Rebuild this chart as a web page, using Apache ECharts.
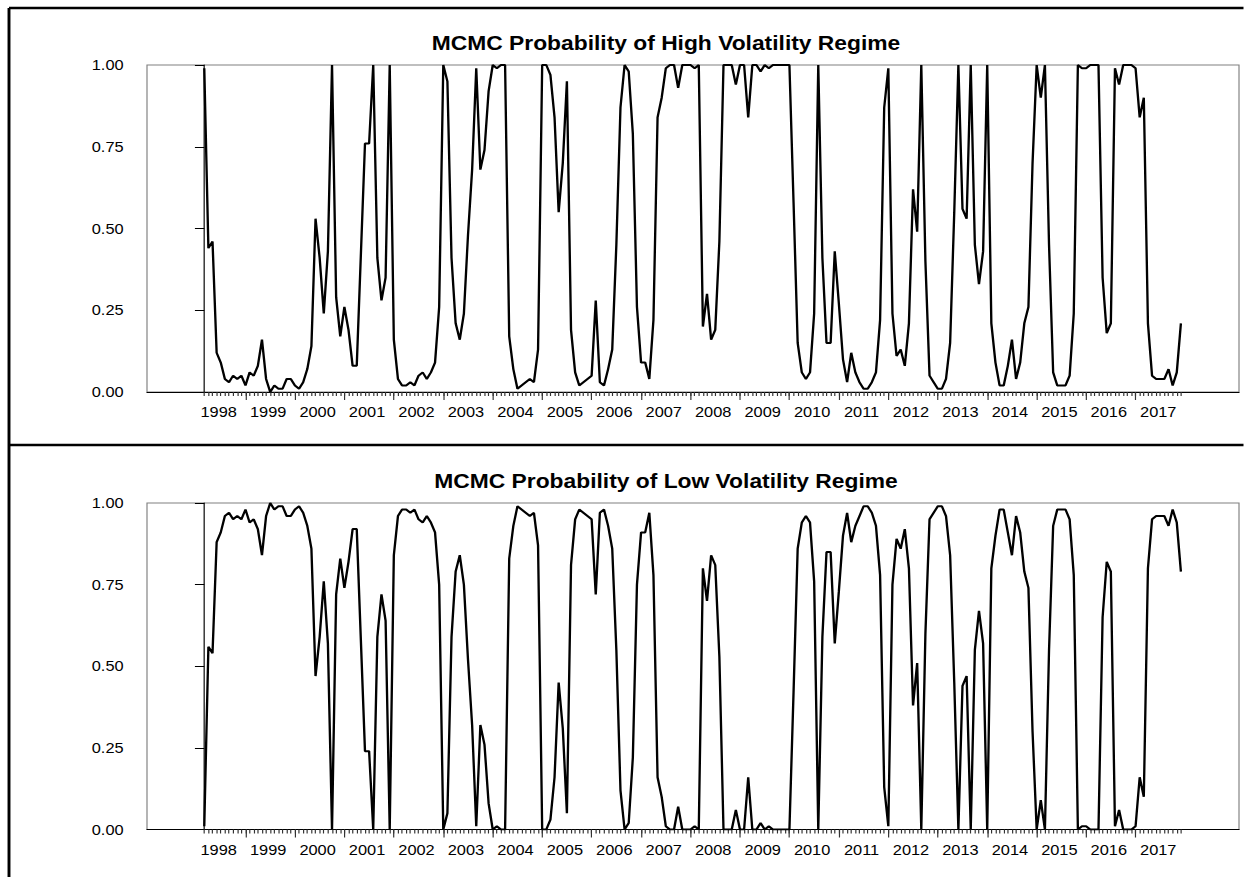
<!DOCTYPE html>
<html>
<head>
<meta charset="utf-8">
<title>MCMC regime probabilities</title>
<script src="https://cdn.jsdelivr.net/npm/echarts@6.0.0/dist/echarts.min.js"></script>
<style>
html, body { margin: 0; padding: 0; background: #fff; overflow: hidden; }
/* the reference is horizontally stretched, so draw narrow and stretch */
#chart { position: absolute; left: 0; top: 0; width: 1063px; height: 877px;
         transform: scaleX(1.17); transform-origin: 0 0; }
</style>
</head>
<body>
<div id="chart"></div>
<script>
var startYear = 1998, startMonth = 3;   // first observation 1998M03

var years = [1998, 1999, 2000, 2001, 2002, 2003, 2004, 2005, 2006, 2007,
             2008, 2009, 2010, 2011, 2012, 2013, 2014, 2015, 2016, 2017];

var titles = ['MCMC Probability of High Volatility Regime',
              'MCMC Probability of Low Volatility Regime'];

var highProb = [
    0.99, 0.44, 0.46, 0.12, 0.09, 0.04, 0.03, 0.05, 0.04, 0.05,
    0.02, 0.06, 0.05, 0.08, 0.16, 0.04, 0.00, 0.02, 0.01, 0.01,
    0.04, 0.04, 0.02, 0.01, 0.03, 0.07, 0.14, 0.53, 0.41, 0.24,
    0.43, 1.00, 0.29, 0.17, 0.26, 0.19, 0.08, 0.08, 0.42, 0.76,
    0.76, 1.00, 0.41, 0.28, 0.35, 1.00, 0.16, 0.04, 0.02, 0.02,
    0.03, 0.02, 0.05, 0.06, 0.04, 0.06, 0.09, 0.26, 1.00, 0.95,
    0.41, 0.21, 0.16, 0.24, 0.48, 0.68, 0.99, 0.68, 0.74, 0.92,
    1.00, 0.99, 1.00, 1.00, 0.17, 0.07, 0.01, 0.02, 0.03, 0.04,
    0.03, 0.13, 1.00, 1.00, 0.97, 0.84, 0.55, 0.70, 0.95, 0.19,
    0.06, 0.02, 0.03, 0.04, 0.05, 0.28, 0.03, 0.02, 0.07, 0.13,
    0.45, 0.87, 1.00, 0.98, 0.79, 0.26, 0.09, 0.09, 0.04, 0.22,
    0.84, 0.90, 0.99, 1.00, 1.00, 0.93, 1.00, 1.00, 1.00, 0.99,
    1.00, 0.20, 0.30, 0.16, 0.19, 0.46, 1.00, 1.00, 1.00, 0.94,
    1.00, 1.00, 0.84, 1.00, 1.00, 0.98, 1.00, 0.99, 1.00, 1.00,
    1.00, 1.00, 1.00, 0.58, 0.15, 0.06, 0.04, 0.06, 0.24, 1.00,
    0.41, 0.15, 0.15, 0.43, 0.27, 0.10, 0.03, 0.12, 0.06, 0.03,
    0.01, 0.01, 0.03, 0.06, 0.22, 0.87, 0.99, 0.24, 0.11, 0.13,
    0.08, 0.21, 0.62, 0.49, 1.00, 0.40, 0.05, 0.03, 0.01, 0.01,
    0.04, 0.15, 0.55, 1.00, 0.56, 0.53, 1.00, 0.45, 0.33, 0.43,
    1.00, 0.21, 0.09, 0.02, 0.02, 0.08, 0.16, 0.04, 0.09, 0.21,
    0.26, 0.70, 1.00, 0.90, 1.00, 0.45, 0.06, 0.02, 0.02, 0.02,
    0.05, 0.24, 1.00, 0.99, 0.99, 1.00, 1.00, 1.00, 0.35, 0.18,
    0.21, 0.99, 0.94, 1.00, 1.00, 1.00, 0.99, 0.84, 0.90, 0.21,
    0.05, 0.04, 0.04, 0.04, 0.07, 0.02, 0.06, 0.21
];

var lowProb = [
    0.01, 0.56, 0.54, 0.88, 0.91, 0.96, 0.97, 0.95, 0.96, 0.95,
    0.98, 0.94, 0.95, 0.92, 0.84, 0.96, 1.00, 0.98, 0.99, 0.99,
    0.96, 0.96, 0.98, 0.99, 0.97, 0.93, 0.86, 0.47, 0.59, 0.76,
    0.57, 0.00, 0.72, 0.83, 0.74, 0.82, 0.92, 0.92, 0.58, 0.24,
    0.24, 0.00, 0.59, 0.72, 0.64, 0.00, 0.84, 0.96, 0.98, 0.98,
    0.97, 0.98, 0.95, 0.94, 0.96, 0.94, 0.91, 0.75, 0.00, 0.05,
    0.59, 0.79, 0.84, 0.75, 0.52, 0.32, 0.01, 0.32, 0.26, 0.08,
    0.00, 0.01, 0.00, 0.00, 0.83, 0.93, 0.99, 0.98, 0.97, 0.96,
    0.97, 0.87, 0.00, 0.00, 0.03, 0.16, 0.45, 0.31, 0.05, 0.81,
    0.95, 0.98, 0.97, 0.96, 0.95, 0.72, 0.97, 0.98, 0.93, 0.86,
    0.55, 0.12, 0.00, 0.02, 0.22, 0.75, 0.91, 0.91, 0.97, 0.78,
    0.16, 0.10, 0.01, 0.00, 0.00, 0.07, 0.00, 0.00, 0.00, 0.01,
    0.00, 0.80, 0.70, 0.84, 0.81, 0.53, 0.00, 0.00, 0.00, 0.06,
    0.00, 0.00, 0.16, 0.00, 0.00, 0.02, 0.00, 0.01, 0.00, 0.00,
    0.00, 0.00, 0.00, 0.42, 0.86, 0.94, 0.96, 0.94, 0.76, 0.00,
    0.59, 0.85, 0.85, 0.57, 0.73, 0.90, 0.97, 0.88, 0.93, 0.96,
    0.99, 0.99, 0.97, 0.93, 0.78, 0.13, 0.01, 0.75, 0.89, 0.86,
    0.92, 0.80, 0.38, 0.51, 0.00, 0.60, 0.95, 0.97, 0.99, 0.99,
    0.96, 0.84, 0.45, 0.00, 0.44, 0.47, 0.00, 0.55, 0.67, 0.57,
    0.00, 0.80, 0.90, 0.98, 0.98, 0.91, 0.84, 0.96, 0.91, 0.79,
    0.74, 0.30, 0.00, 0.09, 0.00, 0.55, 0.93, 0.98, 0.98, 0.98,
    0.95, 0.78, 0.00, 0.01, 0.01, 0.00, 0.00, 0.00, 0.65, 0.82,
    0.79, 0.01, 0.06, 0.00, 0.00, 0.00, 0.01, 0.16, 0.10, 0.80,
    0.95, 0.96, 0.96, 0.96, 0.93, 0.98, 0.94, 0.79
];

function pad(n) { return n < 10 ? '0' + n : '' + n; }

// monthly category labels, 1998M03 ...
var months = [];
var monthTicks = [];
var janTicks = [];
for (var i = 0; i < highProb.length; i++) {
    var m = startMonth - 1 + i;
    months.push((startYear + Math.floor(m / 12)) + 'M' + pad(m % 12 + 1));
    monthTicks.push(i);
    if (m % 12 === 0) janTicks.push(i);
}
// year label sits in the middle of its year
var yearLabelPos = years.map(function(y) {
    return (y - startYear) * 12 - (startMonth - 1) + 5.5;
});

var S = 1.17;                 // horizontal stretch
function sx(x) { return x / S; }

var gridLeft = sx(147);
var gridWidth = sx(1239 - 147);
var xMin = -13.9, xMax = 251.1;
var FONT = '"Liberation Sans", Arial, Helvetica, sans-serif';

var panels = [
    { top: 65, height: 327, titleY: 43, data: highProb },
    { top: 503, height: 326.5, titleY: 481, data: lowProb }
];

var grids = [], xAxes = [], yAxes = [], series = [], graphics = [];

panels.forEach(function(p, k) {
    grids.push({
        left: gridLeft, width: gridWidth, top: p.top, height: p.height,
        show: true, borderColor: '#808080', borderWidth: 1,
        containLabel: false, outerBoundsMode: 'none'
    });

    // axis line + monthly minor ticks
    xAxes.push({
        type: 'value', gridIndex: k, position: 'bottom', offset: 0,
        min: xMin, max: xMax,
        axisLine: { show: true, onZero: false, lineStyle: { color: '#000', width: 1 } },
        axisTick: { show: true, customValues: monthTicks, length: 4,
                    lineStyle: { color: '#333', width: 1 } },
        axisLabel: { show: false },
        splitLine: { show: false }
    });
    // January ticks + year labels
    xAxes.push({
        type: 'value', gridIndex: k, position: 'bottom', offset: 0,
        min: xMin, max: xMax,
        axisLine: { show: false },
        axisTick: { show: true, customValues: janTicks, length: 8,
                    lineStyle: { color: '#333', width: 1 } },
        axisLabel: {
            show: true, customValues: yearLabelPos, margin: 13,
            fontFamily: FONT, fontSize: 14, color: '#000',
            formatter: function(v) {
                return '' + years[yearLabelPos.indexOf(v)];
            }
        },
        splitLine: { show: false }
    });

    yAxes.push({
        type: 'value', gridIndex: k, min: 0, max: 1, interval: 0.25,
        axisLine: { show: true, lineStyle: { color: '#000', width: 1 } },
        axisTick: { show: true, length: 8, lineStyle: { color: '#000', width: 1 } },
        axisLabel: {
            margin: 20, fontFamily: FONT, fontSize: 14, color: '#000',
            formatter: function(v) { return v.toFixed(2); }
        },
        splitLine: { show: false }
    });

    series.push({
        type: 'line', xAxisIndex: 2 * k, yAxisIndex: k,
        data: p.data.map(function(v, i) { return [monthTicks[i], v]; }),
        showSymbol: false, symbol: 'none',
        lineStyle: { color: '#000', width: 2 },
        itemStyle: { color: '#000' },
        silent: true
    });

    graphics.push({
        type: 'text', x: sx(666), y: p.titleY,
        style: {
            text: titles[k], fontFamily: FONT, fontSize: 19.5, fontWeight: 'bold',
            fill: '#000', align: 'center', verticalAlign: 'middle'
        }
    });
});

// outer frame: top edge, left edge and the separator between the panels
var frame = { stroke: '#000', lineWidth: 2.5 };
graphics.push({ type: 'line', shape: { x1: sx(9), y1: 8, x2: 1063, y2: 8 }, style: frame });
graphics.push({ type: 'line', shape: { x1: sx(9), y1: 8, x2: sx(9), y2: 877 }, style: frame });
graphics.push({ type: 'line', shape: { x1: sx(9), y1: 445, x2: 1063, y2: 445 }, style: frame });

var chart = echarts.init(document.getElementById('chart'), null, { renderer: 'svg' });
chart.setOption({
    animation: false,
    backgroundColor: '#fff',
    grid: grids,
    xAxis: xAxes,
    yAxis: yAxes,
    series: series,
    graphic: graphics
});
</script>
</body>
</html>
